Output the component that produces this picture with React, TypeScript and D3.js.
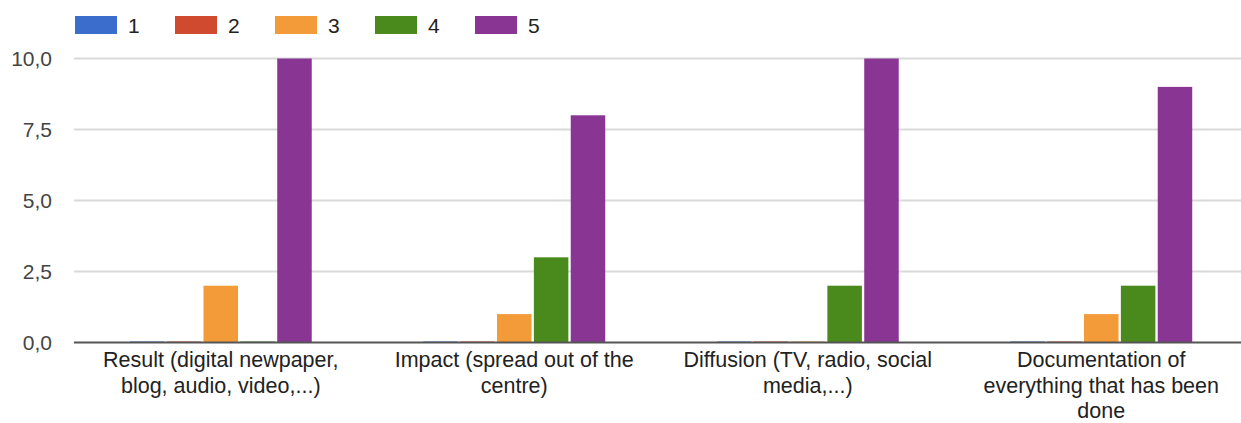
import React, { useEffect, useRef } from "react";
import * as d3 from "d3";

const categories = [
  "Result (digital newpaper,\nblog, audio, video,...)",
  "Impact (spread out of the\ncentre)",
  "Diffusion (TV, radio, social\nmedia,...)",
  "Documentation of\neverything that has been\ndone",
];
const seriesNames = ["1", "2", "3", "4", "5"];
const seriesColors = ["#3a6dcc", "#cf4a2e", "#f29b38", "#4a8a1c", "#883594"];
const values1 = [0, 0, 0, 0];
const values2 = [0, 0, 0, 0];
const values3 = [2, 1, 0, 1];
const values4 = [0, 3, 2, 2];
const values5 = [10, 8, 10, 9];
const yTicks = [0, 2.5, 5, 7.5, 10];

const seriesValues = [values1, values2, values3, values4, values5];

const App = () => {
  const ref = useRef<SVGSVGElement | null>(null);
  const width = 1241;
  const height = 423;
  const marginLeft = 74;
  const plotRight = 1248;
  const yTop = 58.5;
  const yBottom = 342.5;
  const font = "'Liberation Sans', Arial, sans-serif";

  useEffect(() => {
    if (!ref.current) return;
    const svg = d3.select(ref.current);
    svg.selectAll("*").remove();

    const x0 = d3
      .scaleBand()
      .domain(categories)
      .range([marginLeft, plotRight])
      .paddingInner(0.38)
      .paddingOuter(0.19);
    const x1 = d3
      .scaleBand()
      .domain(seriesNames)
      .range([0, x0.bandwidth()])
      .paddingInner(0.064);
    const y = d3.scaleLinear([0, 10], [yBottom, yTop]);

    // grid lines
    svg
      .append("g")
      .selectAll("line")
      .data(yTicks.filter((t) => t !== 0))
      .join("line")
      .attr("x1", marginLeft)
      .attr("x2", width)
      .attr("y1", (d) => y(d))
      .attr("y2", (d) => y(d))
      .attr("stroke", "#d9d9d9")
      .attr("stroke-width", 2);

    // tick labels
    svg
      .append("g")
      .selectAll("text")
      .data(yTicks)
      .join("text")
      .attr("x", 52)
      .attr("y", (d) => y(d))
      .attr("dy", "0.36em")
      .attr("text-anchor", "end")
      .attr("font-family", font)
      .attr("font-size", 21)
      .attr("fill", "#444")
      .text((d) => d3.format(".1f")(d).replace(".", ","));

    // bars
    const groups = svg
      .append("g")
      .selectAll("g")
      .data(categories)
      .join("g")
      .attr("transform", (d) => `translate(${x0(d)},0)`);

    groups
      .selectAll("rect")
      .data((_, i) => seriesNames.map((s, k) => ({ s, k, v: seriesValues[k][i] })))
      .join("rect")
      .attr("x", (d) => x1(d.s)!)
      .attr("width", x1.bandwidth())
      .attr("y", (d) => (d.v === 0 ? yBottom - 1.5 : y(d.v)))
      .attr("height", (d) => (d.v === 0 ? 1.5 : yBottom - y(d.v)))
      .attr("fill", (d) => seriesColors[d.k])
      .attr("fill-opacity", (d) => (d.v === 0 ? 0.5 : 1));

    // baseline
    svg
      .append("line")
      .attr("x1", marginLeft)
      .attr("x2", width)
      .attr("y1", yBottom)
      .attr("y2", yBottom)
      .attr("stroke", "#555")
      .attr("stroke-width", 2);

    // category labels
    svg
      .append("g")
      .selectAll("text")
      .data(categories)
      .join("text")
      .attr("x", (d) => x0(d)! + x0.bandwidth() / 2)
      .attr("y", yBottom + 24.5)
      .attr("text-anchor", "middle")
      .attr("font-family", font)
      .attr("font-size", 21.5)
      .attr("fill", "#222")
      .each(function (d) {
        const t = d3.select(this);
        d.split("\n").forEach((line, i) => {
          t.append("tspan")
            .attr("x", x0(d)! + x0.bandwidth() / 2)
            .attr("dy", i === 0 ? 0 : 25.5)
            .text(line);
        });
      });

    // legend
    const legend = svg
      .append("g")
      .selectAll("g")
      .data(seriesNames)
      .join("g")
      .attr("transform", (_, i) => `translate(${75 + i * 100},16)`);
    legend
      .append("rect")
      .attr("width", 42)
      .attr("height", 18)
      .attr("fill", (_, i) => seriesColors[i]);
    legend
      .append("text")
      .attr("x", 53)
      .attr("y", 9)
      .attr("dy", "0.36em")
      .attr("font-family", font)
      .attr("font-size", 21)
      .attr("fill", "#222")
      .text((d) => d);
  }, []);

  return (
    <svg
      ref={ref}
      width={width}
      height={height}
      style={{ position: "absolute", left: 0, top: 0, background: "#fff" }}
    />
  );
};

export default App;
